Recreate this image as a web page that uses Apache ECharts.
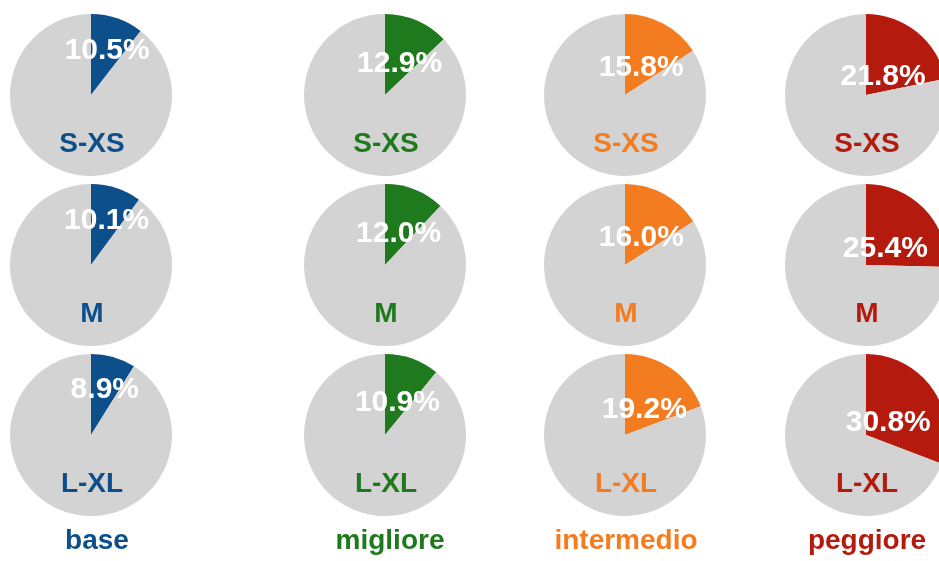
<!DOCTYPE html>
<html>
<head>
<meta charset="utf-8">
<style>
  html, body { margin: 0; padding: 0; background: #ffffff; }
  #chart { width: 939px; height: 561px; }
</style>
<script src="https://cdn.jsdelivr.net/npm/echarts@6/dist/echarts.min.js"></script>
</head>
<body>
<div id="chart"></div>
<script>
// Scenario names (columns) and company size classes (rows)
const scenarios = ['base', 'migliore', 'intermedio', 'peggiore'];
const sizeClasses = ['S-XS', 'M', 'L-XL'];

// Share (%) per size class, one array per scenario
const baseValues = [10.5, 10.1, 8.9];
const miglioreValues = [12.9, 12.0, 10.9];
const intermedioValues = [15.8, 16.0, 19.2];
const peggioreValues = [21.8, 25.4, 30.8];

const scenarioValues = [baseValues, miglioreValues, intermedioValues, peggioreValues];
const scenarioColors = ['#0d4f8b', '#1f7a1d', '#f47c20', '#b51a0e'];
const restColor = '#d3d3d3';

// Grid of pie centres and the distance of the % label from each centre
const colX = [91, 385, 625, 866];
const rowY = [95, 265, 435];
const pieRadius = 81;
const labelDistance = [50, 37, 34, 27];
const captionShift = [6, 5, 1, 1];
const fontFamily = '"Liberation Sans", Arial, Helvetica, sans-serif';

const series = [];
const graphics = [];
const seriesInfo = [];

scenarios.forEach((name, c) => {
  const values = scenarioValues[c];
  const color = scenarioColors[c];
  sizeClasses.forEach((size, r) => {
    const v = values[r];
    seriesInfo.push({ c: c, r: r, v: v });
    series.push({
      type: 'pie',
      name: name + ' ' + size,
      center: [colX[c], rowY[r]],
      radius: [0, pieRadius],
      startAngle: 90,
      clockwise: true,
      silent: true,
      animation: false,
      label: { show: false },
      labelLine: { show: false },
      data: [
        {
          value: v,
          name: size,
          itemStyle: { color: color },
          label: {
            show: true,
            position: 'inside',
            formatter: () => v.toFixed(1) + '%',
            color: '#ffffff',
            fontFamily: fontFamily,
            fontWeight: 'bold',
            fontSize: 30
          }
        },
        { value: 100 - v, name: 'altro', itemStyle: { color: restColor } }
      ]
    });
    graphics.push({
      type: 'text',
      z: 100,
      x: colX[c] + 1,
      y: rowY[r] + 49,
      style: {
        text: size,
        fill: color,
        font: 'bold 28px ' + fontFamily,
        textAlign: 'center',
        textVerticalAlign: 'middle'
      }
    });
  });
  graphics.push({
    type: 'text',
    z: 100,
    x: colX[c] + captionShift[c],
    y: 541,
    style: {
      text: name,
      fill: color,
      font: 'bold 28px ' + fontFamily,
      textAlign: 'center',
      textVerticalAlign: 'middle'
    }
  });
});

// Place each % label along the slice's bisector at the column's label distance
function placeLabel(params) {
  const info = seriesInfo[params.seriesIndex];
  if (!info || params.dataIndex !== 0) return {};
  const mid = (info.v / 100) * Math.PI; // half of the slice angle, measured from 12 o'clock
  const d = labelDistance[info.c];
  return {
    x: colX[info.c] + d * Math.sin(mid),
    y: rowY[info.r] - d * Math.cos(mid) + 3,
    align: 'center',
    verticalAlign: 'middle'
  };
}

const chart = echarts.init(document.getElementById('chart'), null, { renderer: 'canvas' });
chart.setOption({
  backgroundColor: '#ffffff',
  animation: false,
  series: series.map(s => Object.assign(s, { labelLayout: placeLabel })),
  graphic: graphics
});
</script>
</body>
</html>
